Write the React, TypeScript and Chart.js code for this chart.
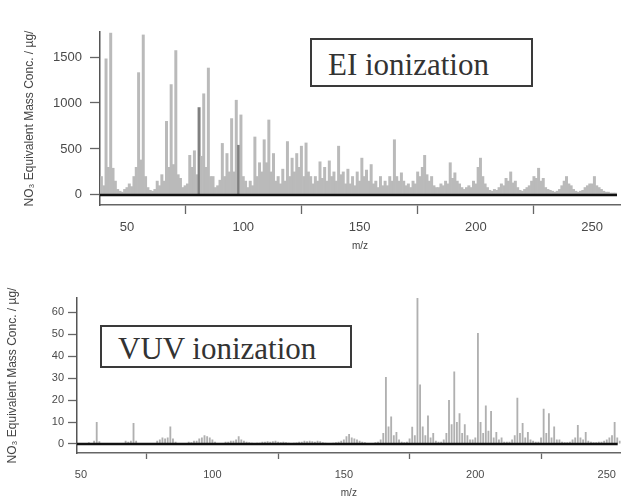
import React, { useEffect, useRef } from "react";
import { Chart, registerables } from "chart.js";

Chart.register(...registerables);

// ---------- EI ionization spectrum (top) ----------
const EI_MZ = [
  39, 40, 41, 42, 43, 44, 45, 46, 47, 48,
  49, 50, 51, 52, 53, 54, 55, 56, 57, 58,
  59, 60, 61, 62, 63, 64, 65, 66, 67, 68,
  69, 70, 71, 72, 73, 74, 75, 76, 77, 78,
  79, 80, 81, 82, 83, 84, 85, 86, 87, 88,
  89, 90, 91, 92, 93, 94, 95, 96, 97, 98,
  99, 100, 101, 102, 103, 104, 105, 106, 107, 108,
  109, 110, 111, 112, 113, 114, 115, 116, 117, 118,
  119, 120, 121, 122, 123, 124, 125, 126, 127, 128,
  129, 130, 131, 132, 133, 134, 135, 136, 137, 138,
  139, 140, 141, 142, 143, 144, 145, 146, 147, 148,
  149, 150, 151, 152, 153, 154, 155, 156, 157, 158,
  159, 160, 161, 162, 163, 164, 165, 166, 167, 168,
  169, 170, 171, 172, 173, 174, 175, 176, 177, 178,
  179, 180, 181, 182, 183, 184, 185, 186, 187, 188,
  189, 190, 191, 192, 193, 194, 195, 196, 197, 198,
  199, 200, 201, 202, 203, 204, 205, 206, 207, 208,
  209, 210, 211, 212, 213, 214, 215, 216, 217, 218,
  219, 220, 221, 222, 223, 224, 225, 226, 227, 228,
  229, 230, 231, 232, 233, 234, 235, 236, 237, 238,
  239, 240, 241, 242, 243, 244, 245, 246, 247, 248,
  249, 250, 251, 252, 253, 254, 255, 256, 257, 258,
  259, 260,
];
const EI_CONC = [
  200, 100, 1480, 300, 1760, 290, 150, 60, 40, 30,
  60, 80, 120, 90, 200, 300, 1330, 380, 1740, 200,
  80, 50, 40, 60, 150, 100, 220, 150, 800, 300,
  1200, 330, 1570, 220, 180, 80, 100, 120, 430, 300,
  480, 220, 950, 420, 1100, 300, 1380, 200, 200, 80,
  100, 160, 560, 200, 450, 250, 830, 250, 1030, 540,
  870, 200, 150, 80, 150, 100, 630, 200, 350, 250,
  600, 350, 815, 250, 450, 150, 200, 120, 280, 150,
  580, 200, 400, 250, 450, 300, 530, 200, 565, 250,
  200, 120, 200, 150, 360, 180, 300, 150, 370, 200,
  250, 150, 530, 220, 250, 120, 280, 120, 200, 100,
  250, 150, 400, 200, 270, 150, 330, 120, 150, 80,
  200, 100, 150, 100, 200, 150, 600, 200, 150, 240,
  150, 100, 120, 80, 150, 120, 250, 200, 300, 430,
  220, 150, 200, 100, 80, 80, 120, 100, 150, 120,
  350, 180, 240, 150, 120, 80, 60, 80, 100, 80,
  150, 120, 300, 400, 200, 120, 80, 50, 40, 60,
  50, 80, 120, 100, 180, 150, 250, 130, 150, 80,
  50, 40, 60, 80, 100, 150, 200, 180, 290, 150,
  180, 80, 60, 50, 40, 30, 40, 60, 100, 150,
  200, 120, 100, 60, 40, 30, 40, 50, 80, 100,
  120, 120, 200, 100, 80, 60, 40, 30, 30, 20,
  20, 20,
];
const EI_DARK_MZ = [81, 98];
const EI_X_TICKS = [50, 100, 150, 200, 250];
const EI_Y_TICKS = [0, 500, 1000, 1500];

// ---------- VUV ionization spectrum (bottom) ----------
const VUV_MZ = [
  49, 50, 51, 52, 53, 54, 55, 56, 57, 58,
  59, 60, 61, 62, 63, 64, 65, 66, 67, 68,
  69, 70, 71, 72, 73, 74, 75, 76, 77, 78,
  79, 80, 81, 82, 83, 84, 85, 86, 87, 88,
  89, 90, 91, 92, 93, 94, 95, 96, 97, 98,
  99, 100, 101, 102, 103, 104, 105, 106, 107, 108,
  109, 110, 111, 112, 113, 114, 115, 116, 117, 118,
  119, 120, 121, 122, 123, 124, 125, 126, 127, 128,
  129, 130, 131, 132, 133, 134, 135, 136, 137, 138,
  139, 140, 141, 142, 143, 144, 145, 146, 147, 148,
  149, 150, 151, 152, 153, 154, 155, 156, 157, 158,
  159, 160, 161, 162, 163, 164, 165, 166, 167, 168,
  169, 170, 171, 172, 173, 174, 175, 176, 177, 178,
  179, 180, 181, 182, 183, 184, 185, 186, 187, 188,
  189, 190, 191, 192, 193, 194, 195, 196, 197, 198,
  199, 200, 201, 202, 203, 204, 205, 206, 207, 208,
  209, 210, 211, 212, 213, 214, 215, 216, 217, 218,
  219, 220, 221, 222, 223, 224, 225, 226, 227, 228,
  229, 230, 231, 232, 233, 234, 235, 236, 237, 238,
  239, 240, 241, 242, 243, 244, 245, 246, 247, 248,
  249, 250, 251, 252, 253, 254, 255,
];
const VUV_CONC = [
  0.3, 0.5, 0.3, 0.3, 0.8, 0.5, 1.5, 10, 1.2, 0.5,
  0.3, 0.3, 0.2, 0.3, 0.3, 0.3, 0.5, 0.5, 1.5, 1,
  1.5, 9.5, 1.5, 0.5, 0.4, 0.3, 0.3, 0.3, 0.5, 0.5,
  1.5, 2, 3, 2.5, 3, 8, 2.5, 1, 0.5, 0.5,
  0.4, 0.5, 1, 0.8, 1.5, 1.5, 2.5, 3, 4, 3.5,
  3, 2, 1, 0.5, 0.5, 0.5, 1, 1, 1.5, 1.5,
  2, 3.5, 2, 1.5, 1, 0.8, 0.6, 0.5, 0.6, 0.6,
  1, 1, 1.2, 1, 1.2, 1.5, 1, 0.8, 1, 0.8,
  0.6, 0.5, 0.6, 0.7, 1, 1, 1.5, 1.2, 1.5, 1.2,
  1, 1.5, 1.2, 0.8, 0.6, 0.5, 0.5, 0.6, 0.8, 1,
  1.5, 2, 3.5, 4.5, 3, 2.5, 2, 1.5, 1, 0.8,
  0.5, 0.5, 0.5, 0.8, 1, 2, 5, 30.5, 8, 12.5,
  4, 5.5, 2, 1, 0.8, 1, 2.5, 7.8, 4, 66.5,
  27, 8, 4, 13, 3, 5, 1.5, 1, 1, 2,
  5, 20, 9, 33, 10, 14, 5, 9, 4, 2,
  2, 3, 50.5, 10, 5, 17.5, 6, 15, 3, 5.5,
  2, 3, 1, 1, 1, 2, 4, 21, 5, 9.5,
  3, 5.5, 2, 1.5, 1, 1, 3, 16, 5, 14,
  3, 8, 2, 2, 1, 0.8, 0.8, 1, 2, 3,
  8.6, 3, 2, 5.5, 1.5, 1, 0.8, 0.8, 1, 1,
  1.5, 2, 3, 4, 10, 3, 1.5,
];
const VUV_DARK_MZ: number[] = [];
const VUV_X_TICKS = [50, 100, 150, 200, 250];
const VUV_Y_TICKS = [0, 10, 20, 30, 40, 50, 60];

const Y_TITLE = "NO₃ Equivalent Mass Conc. / µg/";
const X_TITLE = "m/z";
const EI_LABEL = "EI ionization";
const VUV_LABEL = "VUV ionization";

const SANS = "'Liberation Sans', Arial, sans-serif";
const SERIF = "'Liberation Serif', 'Times New Roman', serif";

const zeroLinePlugin = {
  id: "zeroLine",
  afterDatasetsDraw(chart: any) {
    const { ctx, chartArea, scales } = chart;
    const y = scales.y.getPixelForValue(0);
    ctx.save();
    ctx.strokeStyle = "#111";
    ctx.lineWidth = 2.5;
    ctx.beginPath();
    ctx.moveTo(chartArea.left, y);
    ctx.lineTo(chartArea.right - 3, y);
    ctx.stroke();
    ctx.restore();
  },
};

type Spec = {
  mz: number[];
  conc: number[];
  darkMz: number[];
  xMin: number;
  xMax: number;
  yMin: number;
  yMax: number;
  xTicks: number[];
  yTicks: number[];
  width: number;
  height: number;
  padTop: number;
  padRight: number;
  yWidth: number;
  xHeight: number;
  tickFont: number;
  yTickLen: number;
  yTickPad: number;
  xTickLen: number;
  xTickPad: number;
  yTitlePad: number;
  titleFont: number;
  barPct: number;
  barColor: string;
};

function Spectrum({ spec, top }: { spec: Spec; top: number }) {
  const ref = useRef<HTMLCanvasElement | null>(null);
  useEffect(() => {
    if (!ref.current) return;
    const chart = new Chart(ref.current, {
      type: "bar",
      data: {
        datasets: [
          {
            data: spec.mz.map((m, i) => ({ x: m, y: spec.conc[i] })),
            backgroundColor: spec.mz.map((m) =>
              spec.darkMz.includes(m) ? "#808080" : spec.barColor
            ),
            borderWidth: 0,
            barPercentage: spec.barPct,
            categoryPercentage: 1,
          } as any,
        ],
      },
      options: {
        animation: false,
        responsive: false,
        maintainAspectRatio: false,
        layout: { padding: { top: spec.padTop, right: spec.padRight, left: 0, bottom: 0 } },
        plugins: {
          legend: { display: false },
          tooltip: { enabled: false },
          title: { display: false },
        },
        scales: {
          x: {
            type: "linear",
            min: spec.xMin,
            max: spec.xMax,
            offset: false,
            afterBuildTicks: (s: any) => {
              s.ticks = spec.xTicks.map((v) => ({ value: v }));
            },
            afterFit: (s: any) => {
              s.height = spec.xHeight;
            },
            grid: {
              drawOnChartArea: false,
              drawTicks: true,
              tickLength: spec.xTickLen,
              color: "#666",
              tickWidth: 1.3,
            },
            border: { display: true, color: "#666", width: 1.5 },
            ticks: {
              padding: spec.xTickPad,
              color: "#4a4a4a",
              font: { family: SANS, size: spec.tickFont },
              maxRotation: 0,
              autoSkip: false,
              callback: (v: any) => String(v),
            },
            title: {
              display: true,
              text: X_TITLE,
              color: "#444",
              font: { family: SANS, size: 10 },
              padding: { top: 0, bottom: 0 },
            },
          },
          y: {
            type: "linear",
            min: spec.yMin,
            max: spec.yMax,
            afterBuildTicks: (s: any) => {
              s.ticks = spec.yTicks.map((v) => ({ value: v }));
            },
            afterFit: (s: any) => {
              s.width = spec.yWidth;
            },
            grid: {
              drawOnChartArea: false,
              drawTicks: true,
              tickLength: spec.yTickLen,
              color: "#666",
              tickWidth: 1.3,
            },
            border: { display: true, color: "#555", width: 1.5 },
            ticks: {
              padding: spec.yTickPad,
              color: "#4a4a4a",
              font: { family: SANS, size: spec.tickFont },
              callback: (v: any) => String(v),
            },
            title: {
              display: true,
              text: Y_TITLE,
              color: "#444",
              font: { family: SANS, size: spec.titleFont },
              padding: { top: spec.yTitlePad, bottom: 0 },
            },
          },
        },
      } as any,
      plugins: [zeroLinePlugin],
    });
    return () => chart.destroy();
  }, [spec]);
  return (
    <canvas
      ref={ref}
      width={spec.width}
      height={spec.height}
      style={{ position: "absolute", left: 0, top, width: spec.width, height: spec.height, display: "block" }}
    />
  );
}

const EI_SPEC: Spec = {
  mz: EI_MZ,
  conc: EI_CONC,
  darkMz: EI_DARK_MZ,
  xMin: 38.4,
  xMax: 262,
  yMin: -110,
  yMax: 1772,
  xTicks: EI_X_TICKS,
  yTicks: EI_Y_TICKS,
  width: 625,
  height: 252,
  padTop: 32,
  padRight: 5,
  yWidth: 100,
  xHeight: 47,
  tickFont: 13,
  yTickLen: 10,
  yTickPad: 8,
  xTickLen: 9,
  xTickPad: 6,
  yTitlePad: 22,
  titleFont: 12,
  barPct: 1,
  barColor: "#bababa",
};

const VUV_SPEC: Spec = {
  mz: VUV_MZ,
  conc: VUV_CONC,
  darkMz: VUV_DARK_MZ,
  xMin: 48.5,
  xMax: 255.3,
  yMin: -4.1,
  yMax: 66.4,
  xTicks: VUV_X_TICKS,
  yTicks: VUV_Y_TICKS,
  width: 625,
  height: 239,
  padTop: 38,
  padRight: 3,
  yWidth: 77,
  xHeight: 46,
  tickFont: 11,
  yTickLen: 9,
  yTickPad: 4,
  xTickLen: 6,
  xTickPad: 9,
  yTitlePad: 5,
  titleFont: 12,
  barPct: 0.7,
  barColor: "#b0b0b0",
};

const boxStyle = (left: number, top: number, width: number, height: number): React.CSSProperties => ({
  position: "absolute",
  left,
  top,
  width,
  height,
  boxSizing: "border-box",
  border: "2px solid #3a3a3a",
  background: "#fff",
  fontFamily: SERIF,
  fontSize: 31,
  color: "#333",
  display: "flex",
  alignItems: "center",
  paddingLeft: 16,
  paddingTop: 4,
  whiteSpace: "nowrap",
  lineHeight: 1,
});

export default function App() {
  return (
    <div
      style={{
        position: "fixed",
        left: 0,
        top: 0,
        width: 625,
        height: 499,
        background: "#fff",
        overflow: "hidden",
      }}
    >
      <Spectrum spec={EI_SPEC} top={0} />
      <Spectrum spec={VUV_SPEC} top={260} />
      <div style={boxStyle(310, 38, 223, 49)}>{EI_LABEL}</div>
      <div style={boxStyle(100, 325, 252, 43)}>{VUV_LABEL}</div>
    </div>
  );
}
